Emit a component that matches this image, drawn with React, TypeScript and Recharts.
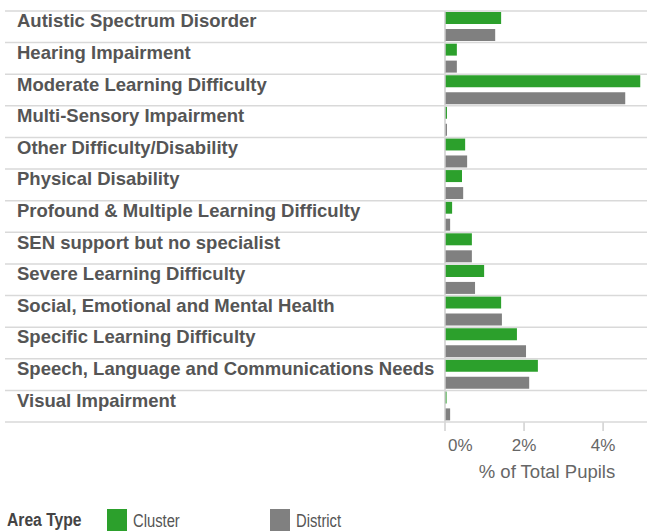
import React from 'react';
import { BarChart, Bar, XAxis, YAxis, Legend } from 'recharts';

const categories = [
  'Autistic Spectrum Disorder',
  'Hearing Impairment',
  'Moderate Learning Difficulty',
  'Multi-Sensory Impairment',
  'Other Difficulty/Disability',
  'Physical Disability',
  'Profound & Multiple Learning Difficulty',
  'SEN support but no specialist',
  'Severe Learning Difficulty',
  'Social, Emotional and Mental Health',
  'Specific Learning Difficulty',
  'Speech, Language and Communications Needs',
  'Visual Impairment',
];
const clusterValues = [1.42, 0.3, 4.94, 0.05, 0.51, 0.43, 0.18, 0.68, 0.99, 1.42, 1.82, 2.35, 0.04];
const districtValues = [1.27, 0.3, 4.56, 0.05, 0.56, 0.46, 0.13, 0.68, 0.76, 1.44, 2.05, 2.13, 0.13];
const xTicks = [0, 2, 4];
const seriesNames = ['Cluster', 'District'];
const legendTitle = 'Area Type';
const axisTitle = '% of Total Pupils';

const data = categories.map((c, i) => ({
  category: c,
  Cluster: clusterValues[i],
  District: districtValues[i],
}));

const W = 647;
const H = 531;
const MARGIN = { top: 11, right: 2, bottom: 0, left: 0 };
const LEGEND_H = 22;
const XAXIS_H = 87;
const PLOT_H = H - MARGIN.top - MARGIN.bottom - LEGEND_H - XAXIS_H;
const BAND = PLOT_H / categories.length;
const FONT = '"Liberation Sans", Arial, Helvetica, sans-serif';
const GREEN = '#2ca02c';
const GREY = '#808080';
const SEP = '#d9d9d9';

const YTick = (props: any) => {
  const { y, payload, index } = props;
  const top = y - BAND / 2;
  const bottom = y + BAND / 2;
  return (
    <g>
      <line x1={5} x2={W} y1={top} y2={top} stroke={SEP} strokeWidth={1.5} />
      {index === categories.length - 1 && (
        <line x1={5} x2={W} y1={bottom} y2={bottom} stroke={SEP} strokeWidth={1.5} />
      )}
      <text x={17} y={y + 0.5} fill="#555555" fontSize={18.5} fontWeight="bold" fontFamily={FONT}>
        {payload.value}
      </text>
    </g>
  );
};

const XTick = (props: any) => {
  const { x, y, payload } = props;
  const isZero = payload.value === 0;
  return (
    <text
      x={isZero ? x + 3 : x}
      y={y + 18}
      textAnchor={isZero ? 'start' : 'middle'}
      fill="#666666"
      fontSize={17}
      fontFamily={FONT}
    >
      {payload.value}%
    </text>
  );
};

const AxisTitle = (props: any) => {
  const vb = props.viewBox;
  return (
    <text x={vb.x + vb.width / 2 + 2} y={vb.y + 56} textAnchor="middle" fill="#666666" fontSize={18.5} fontFamily={FONT}>
      {axisTitle}
    </text>
  );
};

const LegendContent = () => {
  const colors = [GREEN, GREY];
  const sq = [107, 270];
  const narrow = (s: number): React.CSSProperties => ({
    display: 'inline-block',
    transform: `scaleX(${s})`,
    transformOrigin: 'left center',
    whiteSpace: 'nowrap',
  });
  return (
    <div style={{ position: 'relative', height: LEGEND_H, width: W, fontFamily: FONT }}>
      <span style={{ position: 'absolute', left: 7, top: 1, fontSize: 18, fontWeight: 'bold', color: '#444444', lineHeight: '20px' }}>
        <span style={narrow(0.87)}>{legendTitle}</span>
      </span>
      {seriesNames.map((n, i) => (
        <React.Fragment key={n}>
          <span style={{ position: 'absolute', left: sq[i], top: 0, width: 20, height: 22, background: colors[i] }} />
          <span style={{ position: 'absolute', left: sq[i] + 26, top: 2, fontSize: 18, color: '#555555', lineHeight: '20px' }}>
            <span style={narrow(0.82)}>{n}</span>
          </span>
        </React.Fragment>
      ))}
    </div>
  );
};

export default function App() {
  return (
    <div style={{ position: 'absolute', left: 0, top: 0, width: W, height: H, background: '#fff', overflow: 'hidden' }}>
      <BarChart
        width={W}
        height={H}
        data={data}
        layout="vertical"
        margin={MARGIN}
        barSize={12}
        barGap={5}
      >
        <XAxis
          type="number"
          domain={[0, 5.06]}
          ticks={xTicks}
          axisLine={false}
          tickLine={{ stroke: '#d0d0d0', strokeWidth: 1.5 }}
          tickSize={9}
          tick={<XTick />}
          height={XAXIS_H}
          label={<AxisTitle />}
          allowDataOverflow
        />
        <YAxis
          type="category"
          dataKey="category"
          width={445}
          axisLine={{ stroke: '#cccccc', strokeWidth: 1.5 }}
          tickLine={false}
          tick={<YTick />}
          interval={0}
        />
        <Legend verticalAlign="bottom" align="left" height={LEGEND_H} content={<LegendContent />} />
        <Bar dataKey="Cluster" fill={GREEN} isAnimationActive={false} />
        <Bar dataKey="District" fill={GREY} isAnimationActive={false} />
      </BarChart>
    </div>
  );
}
